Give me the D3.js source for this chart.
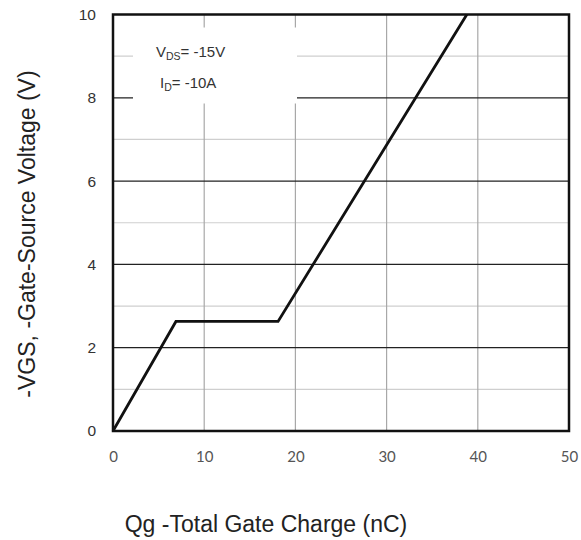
<!DOCTYPE html>
<html>
<head>
<meta charset="utf-8">
<script src="https://cdn.jsdelivr.net/npm/d3@7"></script>
<style>
  body { margin: 0; background: #fff; }
  svg { display: block; }
</style>
</head>
<body>
<div class="chart"></div>
<script>
// gate charge curve
const chargeNc = [0, 6.9, 18.1, 38.8];
const vgs = [0, 2.63, 2.63, 10];
const xTicks = [0, 10, 20, 30, 40, 50];
const yTicks = [0, 2, 4, 6, 8, 10];
const yMinor = [1, 3, 5, 7, 9];
const noteLines = [
  { main: "V", sub: "DS", rest: "= -15V" },
  { main: "I", sub: "D", rest: "= -10A" },
];

const width = 581;
const height = 540;
const margin = { left: 113, top: 14.5, right: 12, bottom: 109 };
const plotW = width - margin.left - margin.right;
const plotH = height - margin.top - margin.bottom;

const xScale = d3.scaleLinear().domain([0, 50]).range([0, plotW]);
const yScale = d3.scaleLinear().domain([0, 10]).range([plotH, 0]);

const svg = d3
  .select(".chart")
  .append("svg")
  .attr("width", width)
  .attr("height", height);

const chart = svg
  .append("g")
  .attr("transform", `translate(${margin.left},${margin.top})`);

// minor horizontal grid (odd volts)
chart
  .selectAll(".minor")
  .data(yMinor)
  .enter()
  .append("line")
  .attr("x1", 0)
  .attr("x2", plotW)
  .attr("y1", (d) => yScale(d))
  .attr("y2", (d) => yScale(d))
  .attr("stroke", "#cfcfcf")
  .attr("stroke-width", 1.2);

// vertical grid
chart
  .selectAll(".vgrid")
  .data(xTicks.slice(1, -1))
  .enter()
  .append("line")
  .attr("x1", (d) => xScale(d))
  .attr("x2", (d) => xScale(d))
  .attr("y1", 0)
  .attr("y2", plotH)
  .attr("stroke", "#a8a8a8")
  .attr("stroke-width", 1.2);

// major horizontal grid
chart
  .selectAll(".major")
  .data(yTicks.slice(1, -1))
  .enter()
  .append("line")
  .attr("x1", 0)
  .attr("x2", plotW)
  .attr("y1", (d) => yScale(d))
  .attr("y2", (d) => yScale(d))
  .attr("stroke", "#222")
  .attr("stroke-width", 1.3);

// white box behind the conditions note
chart
  .append("rect")
  .attr("x", 20)
  .attr("y", 13)
  .attr("width", 164)
  .attr("height", 76)
  .attr("fill", "#fff");

const note = chart
  .selectAll(".note")
  .data(noteLines)
  .enter()
  .append("text")
  .attr("x", (d, i) => (i == 0 ? 43 : 47))
  .attr("y", (d, i) => 42.5 + i * 30.5)
  .attr("font-family", "Liberation Sans, Arial, sans-serif")
  .attr("font-size", 15)
  .attr("fill", "#333");
note.append("tspan").text((d) => d.main);
note
  .append("tspan")
  .attr("font-size", 10.5)
  .attr("dy", 3)
  .text((d) => d.sub);
note
  .append("tspan")
  .attr("dy", -3)
  .text((d) => d.rest);

// curve
const line = d3
  .line()
  .x((d) => xScale(d[0]))
  .y((d) => yScale(d[1]));

chart
  .append("path")
  .datum(chargeNc.map((q, i) => [q, vgs[i]]))
  .attr("d", line)
  .attr("fill", "none")
  .attr("stroke", "#111")
  .attr("stroke-width", 2.8)
  .attr("stroke-linejoin", "miter");

// frame
chart
  .append("rect")
  .attr("width", plotW)
  .attr("height", plotH)
  .attr("fill", "none")
  .attr("stroke", "#111")
  .attr("stroke-width", 2.5);

// axes (labels only)
const xAxis = chart
  .append("g")
  .attr("transform", `translate(0,${plotH})`)
  .call(d3.axisBottom(xScale).tickValues(xTicks).tickSize(0).tickPadding(20));
xAxis.select(".domain").remove();
xAxis
  .selectAll(".tick text")
  .attr("font-family", "Lato, Open Sans, sans-serif")
  .attr("font-size", 15)
  .attr("fill", "#555");

const yAxis = chart
  .append("g")
  .call(d3.axisLeft(yScale).tickValues(yTicks).tickSize(0).tickPadding(17));
yAxis.select(".domain").remove();
yAxis
  .selectAll(".tick text")
  .attr("font-family", "Liberation Sans Narrow, Arial Narrow, Liberation Sans, sans-serif")
  .attr("font-size", 15.5)
  .attr("fill", "#333");

// axis titles
svg
  .append("text")
  .attr("x", 266)
  .attr("y", 532)
  .attr("text-anchor", "middle")
  .attr("font-family", "Liberation Sans, Arial, sans-serif")
  .attr("font-size", 23)
  .attr("fill", "#222")
  .text("Qg -Total Gate Charge (nC)");

svg
  .append("text")
  .attr("transform", "translate(35,234) rotate(-90)")
  .attr("text-anchor", "middle")
  .attr("font-family", "Liberation Sans, Arial, sans-serif")
  .attr("font-size", 23)
  .attr("fill", "#222")
  .text("-VGS, -Gate-Source Voltage (V)");
</script>
</body>
</html>
